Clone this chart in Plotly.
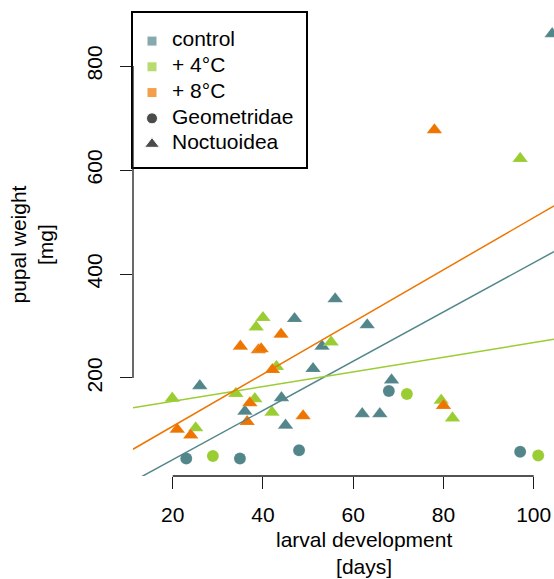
import plotly.graph_objects as go

# ---- data -------------------------------------------------------------
# larval development [days] and pupal weight [mg] per treatment and family
ctrl_noct_days = [26.0, 56.0, 47.0, 63.1, 53.1, 51.1, 68.5, 44.1, 36.0, 45.0, 62.0, 65.9, 104.1]
ctrl_noct_mass = [185, 352, 314, 302, 261, 218, 196, 162, 136, 109, 131, 131, 862]
ctrl_geom_days = [23.0, 34.9, 48.0, 67.9, 97.0]
ctrl_geom_mass = [45, 45, 61, 175, 58]

t4_noct_days = [19.9, 25.1, 34.0, 38.2, 40.0, 38.5, 43.0, 42.0, 55.1, 79.5, 82.0, 97.0]
t4_noct_mass = [161, 104, 170, 160, 316, 298, 222, 134, 269, 157, 123, 622]
t4_geom_days = [28.9, 71.9, 101.0]
t4_geom_mass = [50, 169, 51]

t8_noct_days = [21.0, 24.0, 35.0, 39.0, 39.6, 44.0, 42.1, 37.1, 36.5, 48.9, 80.0, 78.0]
t8_noct_mass = [101, 90, 261, 254, 256, 284, 216, 152, 116, 127, 147, 677]

# linear fits per treatment: (intercept, slope)
fit_ctrl = (-51.8, 4.735)
fit_t4 = (127.2, 1.408)
fit_t8 = (6.8, 5.016)

x_ticks = [20, 40, 60, 80, 100]
y_ticks = [200, 400, 600, 800]

legend_labels = ["control", "+ 4°C", "+ 8°C", "Geometridae", "Noctuoidea"]

# ---- styling ----------------------------------------------------------
COL_CTRL = "#53868B"
COL_T4 = "#9ACD32"
COL_T8 = "#EE7600"
FONT = "Liberation Sans, Arial, Helvetica, sans-serif"
FS = 21
X_RANGE = [11.2, 104.5]
Y_RANGE = [11.5, 902]

fig = go.Figure()


def add_points(xs, ys, color, symbol, size):
    fig.add_trace(go.Scatter(
        x=xs, y=ys, mode="markers",
        marker=dict(color=color, symbol=symbol, size=size,
                    line=dict(color="rgba(255,255,255,0.5)", width=0.3)),
        hoverinfo="x+y", xaxis="x", yaxis="y",
    ))


add_points(ctrl_noct_days, ctrl_noct_mass, COL_CTRL, "triangle-up", 13.5)
add_points(ctrl_geom_days, ctrl_geom_mass, COL_CTRL, "circle", 12)
add_points(t4_noct_days, t4_noct_mass, COL_T4, "triangle-up", 13.5)
add_points(t4_geom_days, t4_geom_mass, COL_T4, "circle", 12)
add_points(t8_noct_days, t8_noct_mass, COL_T8, "triangle-up", 13.5)

# regression lines across the whole plotting region
for (a, b), col in [(fit_ctrl, COL_CTRL), (fit_t4, COL_T4), (fit_t8, COL_T8)]:
    xs = list(X_RANGE)
    fig.add_trace(go.Scatter(
        x=xs, y=[a + b * v for v in xs], mode="lines",
        line=dict(color=col, width=1.5), hoverinfo="skip",
        xaxis="x", yaxis="y",
    ))

# ---- legend drawn in its own small subplot ----------------------------
rows = list(range(1, len(legend_labels) + 1))
key_symbols = ["square", "square", "square", "circle", "triangle-up"]
key_colors = [COL_CTRL, COL_T4, COL_T8, "black", "black"]
key_sizes = [10, 10, 10, 11, 13]
fig.add_trace(go.Scatter(
    x=[19] * len(rows), y=rows, mode="markers",
    marker=dict(symbol=key_symbols, color=key_colors, size=key_sizes),
    hoverinfo="skip", xaxis="x2", yaxis="y2",
))
fig.add_trace(go.Scatter(
    x=[39] * len(rows), y=rows, mode="text", text=legend_labels,
    textposition="middle right",
    textfont=dict(family=FONT, size=FS, color="black"),
    hoverinfo="skip", xaxis="x2", yaxis="y2",
))

W, H = 554, 579
ML, MR, MT, MB = 133, 0, 13, 103
PW = W - ML - MR
PH = H - MT - MB

axis_common = dict(
    showgrid=False, zeroline=False, showline=False,
    ticks="outside", ticklen=12, tickwidth=1.3, tickcolor="#1a1a1a",
    tickfont=dict(family=FONT, size=FS, color="black"),
)

fig.update_layout(
    width=W, height=H,
    margin=dict(l=ML, r=MR, t=MT, b=MB, pad=0),
    paper_bgcolor="white", plot_bgcolor="white",
    showlegend=False,
    font=dict(family=FONT, size=FS, color="black"),
    xaxis=dict(range=X_RANGE, tickvals=x_ticks, ticklabelstandoff=8,
               domain=[0, 1], **axis_common),
    yaxis=dict(range=Y_RANGE, tickvals=y_ticks, tickangle=-90,
               ticklabelstandoff=10, domain=[0, 1], **axis_common),
    xaxis2=dict(domain=[0, 173 / PW], range=[0, 173], anchor="y2",
                showgrid=False, zeroline=False, showticklabels=False,
                showline=True, mirror=True, linecolor="black", linewidth=1.5,
                ticks=""),
    yaxis2=dict(domain=[(476 - 167) / PH, 1.0], range=[5.89, -0.09],
                anchor="x2", showgrid=False, zeroline=False,
                showticklabels=False, showline=True, mirror=True,
                linecolor="black", linewidth=1.5, ticks=""),
)

# axis lines spanning only from first to last tick
fig.add_shape(type="line", xref="x", yref="paper",
              x0=x_ticks[0], x1=x_ticks[-1], y0=0, y1=0,
              line=dict(color="#1a1a1a", width=1.3))
fig.add_shape(type="line", xref="paper", yref="y",
              x0=0, x1=0, y0=y_ticks[0], y1=y_ticks[-1],
              line=dict(color="#1a1a1a", width=1.3))

# axis titles
fig.add_annotation(text="larval development<br>[days]", xref="paper", yref="paper",
                   x=(364 - ML) / PW, y=-(553 - (H - MB)) / PH,
                   xanchor="center", yanchor="middle", showarrow=False,
                   font=dict(family=FONT, size=FS, color="black"))
fig.add_annotation(text="pupal weight<br>[mg]", xref="paper", yref="paper",
                   x=(31 - ML) / PW, y=0.5, textangle=-90,
                   xanchor="center", yanchor="middle", showarrow=False,
                   font=dict(family=FONT, size=FS, color="black"))

fig.write_html("out.html")
